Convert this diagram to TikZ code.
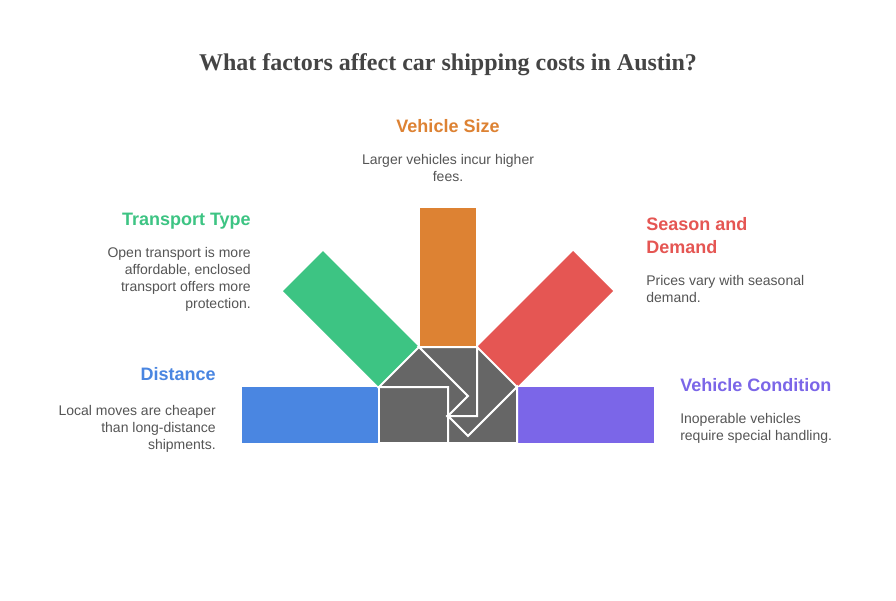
\documentclass[tikz,border=0pt]{standalone}
\usepackage{fontspec}
\setmainfont{Liberation Sans}
\newfontfamily\titlefont{Liberation Serif}
\definecolor{cgreen}{HTML}{3DC483}
\definecolor{corange}{HTML}{DD8233}
\definecolor{cred}{HTML}{E55653}
\definecolor{cblue}{HTML}{4A86E1}
\definecolor{cpurple}{HTML}{7B66E8}
\definecolor{cgray}{HTML}{666666}
\definecolor{ctitle}{HTML}{444444}
\definecolor{ctext}{HTML}{555555}
\begin{document}
\begin{tikzpicture}[x=0.75pt,y=-0.75pt,
  heading/.style={inner sep=0pt,font=\bfseries\fontsize{13.5}{17.25}\selectfont},
  desc/.style={inner sep=0pt,text=ctext,font=\fontsize{10.5}{12.75}\selectfont},
  blade/.style={fill=cgray,draw=white,line width=1.5pt,line join=miter}]
\useasboundingbox (0,0) rectangle (896,600);
\fill[white] (0,0) rectangle (896,600);

% title
\node[inner sep=0pt,anchor=base,text=ctitle,font=\titlefont\bfseries\fontsize{18}{22}\selectfont] (title) at (448,70) {What factors affect car shipping costs in Austin?};

% bars
\fill[cblue] (242,387) rectangle (380,443);
\fill[cpurple] (516,387) rectangle (654,443);
\fill[corange] (420,208) rectangle (476,348);
\fill[cgreen] (283,291) -- (323,251) -- (420,348) -- (380,388) -- cycle;
\fill[cred] (613,291) -- (573,251) -- (476,348) -- (516,388) -- cycle;

% shutter blades
\path[blade] (379,387) -- (448,387) -- (448,443) -- (379,443) -- cycle;
\path[blade] (379,387) -- (419,347) -- (468,396) -- (448,416) -- (448,387) -- cycle;
\path[blade] (419,347) -- (477,347) -- (477,416) -- (448,416) -- (468,396) -- cycle;
\path[blade] (477,347) -- (517,387) -- (468,436) -- (448,416) -- (477,416) -- cycle;
\path[blade] (448,416) -- (468,436) -- (517,387) -- (517,443) -- (448,443) -- cycle;

% texts
\node[heading,text=corange,anchor=base] (sizeh) at (448,132.5) {Vehicle Size};
\node[desc,anchor=north,align=center] (sized) at (448,154) {Larger vehicles incur higher\\fees.};

\node[heading,text=cgreen,anchor=base east] (typeh) at (251,225.5) {Transport Type};
\node[desc,anchor=north east,align=right] (typed) at (251,247) {Open transport is more\\affordable, enclosed\\transport offers more\\protection.};

\node[heading,text=cblue,anchor=base east] (disth) at (216,380.5) {Distance};
\node[desc,anchor=north east,align=right] (distd) at (216,405) {Local moves are cheaper\\than long-distance\\shipments.};

\node[heading,text=cred,anchor=north west,align=left] (seash) at (646,217.5) {Season and\\Demand};
\node[desc,anchor=north west,align=left] (seasd) at (646,275) {Prices vary with seasonal\\demand.};

\node[heading,text=cpurple,anchor=base west] (condh) at (680,391.5) {Vehicle Condition};
\node[desc,anchor=north west,align=left] (condd) at (680,413) {Inoperable vehicles\\require special handling.};
\end{tikzpicture}
\end{document}
